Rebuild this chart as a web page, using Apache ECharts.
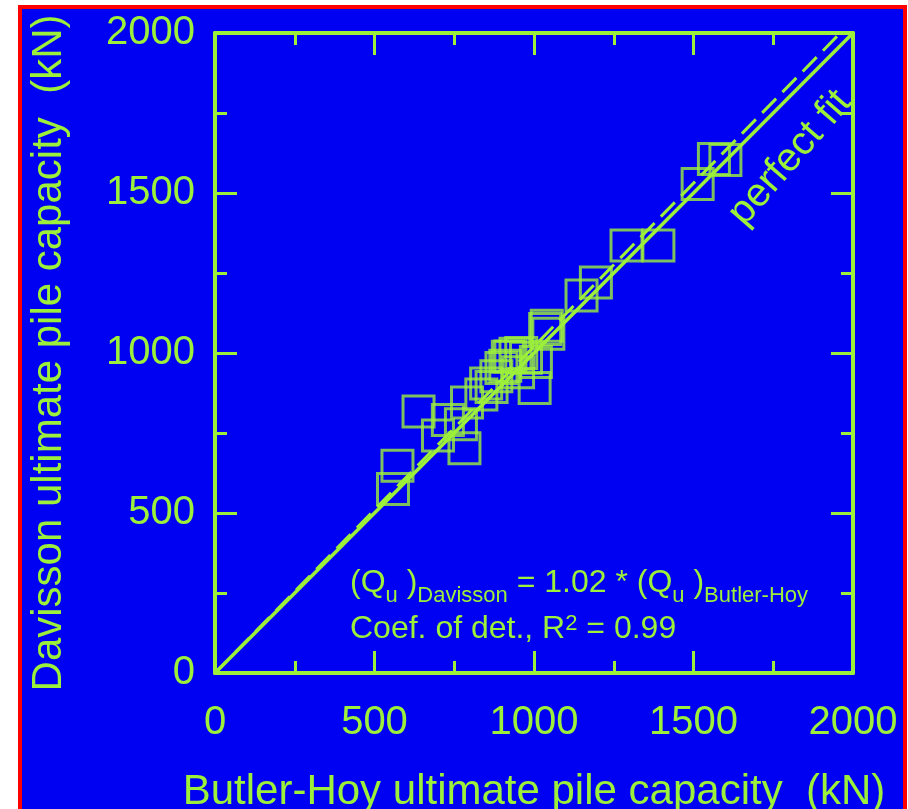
<!DOCTYPE html>
<html>
<head>
<meta charset="utf-8">
<script src="https://cdn.jsdelivr.net/npm/echarts@6/dist/echarts.min.js"></script>
<style>
  html, body { margin: 0; padding: 0; background: #fff; }
  #chart { width: 908px; height: 809px; }
</style>
</head>
<body>
<div id="chart"></div>
<script>
// Butler-Hoy (x) vs Davisson (y) ultimate pile capacity, kN
const butlerHoy = [558, 572, 638, 699, 730, 771, 782, 790, 835, 850, 867, 882, 898, 910, 918, 926, 942, 950, 960, 975, 1002, 1006, 1035, 1040, 1045, 1149, 1194, 1290, 1390, 1513, 1564, 1600]
const davisson = [575, 648, 817, 742, 791, 777, 702, 845, 870, 905, 894, 927, 953, 960, 988, 989, 998, 940, 1000, 985, 891, 972, 1075, 1085, 1060, 1180, 1220, 1336, 1336, 1528, 1606, 1603]
const perfectFit = [[0, 0], [2000, 2000]]
const regressionFit = [[0, 0], [1960, 2000]]
const tickValues = [0, 500, 1000, 1500, 2000]

const green = '#9cf03a'
const blue = '#0000f2'
const font = "'Liberation Sans', Arial, sans-serif"

const chart = echarts.init(document.getElementById('chart'))

const baseAxis = {
  type: 'value',
  min: 0,
  max: 2000,
  interval: 500,
  axisLine: { show: true, onZero: false, lineStyle: { color: green, width: 4 } },
  axisTick: { show: true, inside: true, length: 22, lineStyle: { color: green, width: 3 } },
  minorTick: { show: true, splitNumber: 2, length: 12, lineStyle: { color: green, width: 3 } },
  splitLine: { show: false },
  axisLabel: {
    color: green,
    fontFamily: font,
    fontSize: 40,
    formatter: v => tickValues.includes(v) ? String(v) : ''
  }
}

const option = {
  backgroundColor: '#fff',
  animation: false,
  grid: { left: 215, right: 55, top: 33, bottom: 136, outerBoundsMode: 'none' },
  graphic: [
    {
      type: 'rect',
      z: -10,
      silent: true,
      shape: { x: 20, y: 7, width: 885, height: 820 },
      style: { fill: blue, stroke: '#ff0000', lineWidth: 4 }
    },
    {
      type: 'text',
      x: 790, y: 158,
      rotation: 49 * Math.PI / 180,
      style: {
        text: 'perfect fit',
        fill: green,
        font: '40px ' + font,
        align: 'center',
        verticalAlign: 'middle'
      }
    },
    {
      type: 'text',
      x: 350, y: 580,
      style: {
        text: '{m|(Q}{s|u}{m| )}{s|Davisson}{m| = 1.02 * (Q}{s|u}{m| )}{s|Butler-Hoy}',
        fill: green,
        font: '32px ' + font,
        verticalAlign: 'middle',
        rich: {
          m: { fontSize: 32, fontFamily: font, fill: green, verticalAlign: 'bottom', lineHeight: 38 },
          s: { fontSize: 22, fontFamily: font, fill: green, verticalAlign: 'bottom', lineHeight: 38, padding: [0, 0, -8, 0] }
        }
      }
    },
    {
      type: 'text',
      x: 350, y: 626,
      style: {
        text: '{m|Coef. of det., R}{p|2}{m| = 0.99}',
        fill: green,
        font: '32px ' + font,
        verticalAlign: 'middle',
        rich: {
          m: { fontSize: 32, fontFamily: font, fill: green, verticalAlign: 'bottom', lineHeight: 38 },
          p: { fontSize: 22, fontFamily: font, fill: green, verticalAlign: 'bottom', lineHeight: 38, padding: [0, 0, 10, 0] }
        }
      }
    }
  ],
  xAxis: [
    Object.assign({}, baseAxis, {
      position: 'bottom',
      name: 'Butler-Hoy ultimate pile capacity  (kN)',
      nameLocation: 'middle',
      nameGap: 98,
      nameTextStyle: { color: green, fontFamily: font, fontSize: 42 },
      axisLabel: Object.assign({}, baseAxis.axisLabel, { margin: 30 })
    }),
    Object.assign({}, baseAxis, { position: 'top', axisLabel: { show: false } })
  ],
  yAxis: [
    Object.assign({}, baseAxis, {
      position: 'left',
      name: 'Davisson ultimate pile capacity  (kN)',
      nameLocation: 'middle',
      nameGap: 145,
      nameTextStyle: { color: green, fontFamily: font, fontSize: 42 },
      axisLabel: Object.assign({}, baseAxis.axisLabel, { margin: 20 })
    }),
    Object.assign({}, baseAxis, { position: 'right', axisLabel: { show: false } })
  ],
  series: [
    {
      type: 'line',
      data: perfectFit,
      symbol: 'none',
      lineStyle: { color: green, width: 3.5 },
      z: 3
    },
    {
      type: 'line',
      data: regressionFit,
      symbol: 'none',
      lineStyle: { color: green, width: 3, type: [20, 9] },
      z: 3
    },
    {
      type: 'scatter',
      data: butlerHoy.map((x, i) => [x, davisson[i]]),
      symbol: 'rect',
      symbolSize: 31,
      itemStyle: { color: 'transparent', borderColor: green, borderWidth: 3 },
      z: 2
    }
  ]
}

chart.setOption(option)
</script>
</body>
</html>
